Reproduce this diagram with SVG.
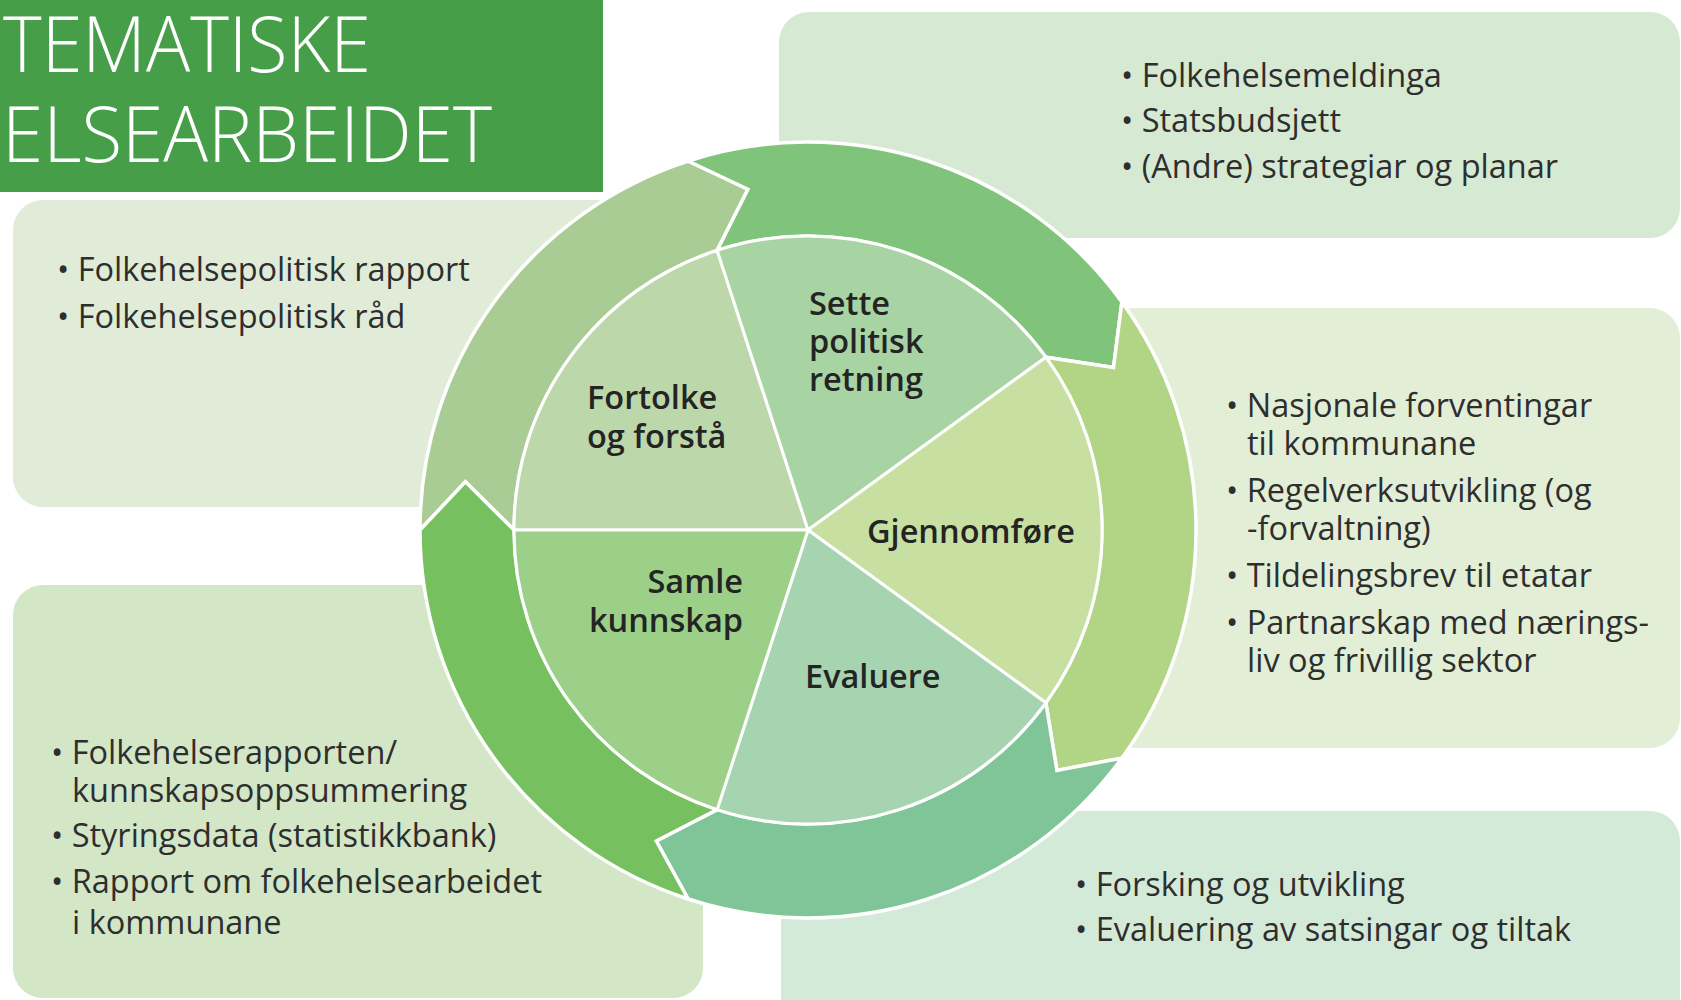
<svg xmlns="http://www.w3.org/2000/svg" width="1681" height="1000" viewBox="0 0 1681 1000">
<style>
.box{stroke:none}
.body{font-family:"Open Sans","Liberation Sans",sans-serif;font-size:32.5px;fill:#2e2e2e}
.lbl{font-family:"Open Sans","Liberation Sans",sans-serif;font-size:32.5px;font-weight:600;fill:#242424}
.title{font-family:"Open Sans","Liberation Sans",sans-serif;font-size:77px;font-weight:300;fill:#ffffff}
.ring{stroke:#ffffff;stroke-width:3.5;stroke-linejoin:miter}
.sec{stroke:#ffffff;stroke-width:3;stroke-linejoin:round}
</style>
<rect width="1681" height="1000" fill="#ffffff"/>

<g id="box-top-right">
<rect class="box" x="779" y="12" width="901" height="226" rx="30" fill="#D6E9D2"/>
<text class="body" x="1121" y="87">• Folkehelsemeldinga</text>
<text class="body" x="1121" y="132">• Statsbudsjett</text>
<text class="body" x="1121" y="178">• (Andre) strategiar og planar</text>
</g>

<g id="box-left-top">
<rect class="box" x="13" y="200" width="700" height="307" rx="30" fill="#E0ECD7"/>
<text class="body" x="57" y="281">• Folkehelsepolitisk rapport</text>
<text class="body" x="57" y="328">• Folkehelsepolitisk råd</text>
</g>

<g id="box-right-middle">
<rect class="box" x="1105" y="308" width="575" height="440" rx="30" fill="#E2EFD6"/>
<text class="body" x="1226" y="417">• Nasjonale forventingar</text>
<text class="body" x="1247" y="455">til kommunane</text>
<text class="body" x="1226" y="502">• Regelverksutvikling (og</text>
<text class="body" x="1247" y="540">-forvaltning)</text>
<text class="body" x="1226" y="587">• Tildelingsbrev til etatar</text>
<text class="body" x="1226" y="634">• Partnarskap med nærings-</text>
<text class="body" x="1247" y="672">liv og frivillig sektor</text>
</g>

<g id="box-left-bottom">
<rect class="box" x="13" y="585" width="690" height="413" rx="30" fill="#D3E6C6"/>
<text class="body" x="51" y="764">• Folkehelserapporten/</text>
<text class="body" x="72" y="802">kunnskapsoppsummering</text>
<text class="body" x="51" y="847">• Styringsdata (statistikkbank)</text>
<text class="body" x="51" y="893">• Rapport om folkehelsearbeidet</text>
<text class="body" x="72" y="934">i kommunane</text>
</g>

<g id="box-bottom-right">
<rect class="box" x="781" y="811" width="899" height="220" rx="30" fill="#D4EAD9"/>
<text class="body" x="1075" y="896">• Forsking og utvikling</text>
<text class="body" x="1075" y="941">• Evaluering av satsingar og tiltak</text>
</g>

<g id="title">
<rect x="0" y="0" width="603" height="192" fill="#469E48"/>
<text class="title" x="3" y="72" textLength="368" lengthAdjust="spacingAndGlyphs">TEMATISKE</text>
<text class="title" x="2" y="162" textLength="490" lengthAdjust="spacingAndGlyphs">ELSEARBEIDET</text>
</g>

<g id="connectors">
<path id="arrow-fortolke" class="ring" fill="#A9CC95" d="M420,530 A388,388 0 0 1 688.1,161 L747.92,189.26 L717.15,250.39 A294,294 0 0 0 514,530 L465.37,481.85 Z"/>
<path id="arrow-sette" class="ring" fill="#80C47C" d="M688.1,161 A388,388 0 0 1 1121.9,301.9 L1113.5,367.56 L1045.85,357.19 A294,294 0 0 0 717.15,250.39 L747.92,189.26 Z"/>
<path id="arrow-gjennomfore" class="ring" fill="#B2D585" d="M1121.9,301.9 A388,388 0 0 1 1121.9,758.1 L1056.89,770.35 L1045.85,702.81 A294,294 0 0 0 1045.85,357.19 L1113.5,367.56 Z"/>
<path id="arrow-evaluere" class="ring" fill="#7FC597" d="M1121.9,758.1 A388,388 0 0 1 688.1,899 L656.32,840.98 L717.15,809.61 A294,294 0 0 0 1045.85,702.81 L1056.89,770.35 Z"/>
<path id="arrow-samle" class="ring" fill="#76C060" d="M688.1,899 A388,388 0 0 1 420,530 L465.37,481.85 L514,530 A294,294 0 0 0 717.15,809.61 L656.32,840.98 Z"/>
</g>

<g id="node-fortolke">
<path class="sec" fill="#BCD7AA" d="M808,530 L514,530 A294,294 0 0 1 717.15,250.39 Z"/>
<text class="lbl" x="587" y="409">Fortolke</text>
<text class="lbl" x="587" y="448">og forstå</text>
</g>
<g id="node-sette">
<path class="sec" fill="#A8D4A3" d="M808,530 L717.15,250.39 A294,294 0 0 1 1045.85,357.19 Z"/>
<text class="lbl" x="809" y="315">Sette</text>
<text class="lbl" x="809" y="353">politisk</text>
<text class="lbl" x="809" y="391">retning</text>
</g>
<g id="node-gjennomfore">
<path class="sec" fill="#C7E0A2" d="M808,530 L1045.85,357.19 A294,294 0 0 1 1045.85,702.81 Z"/>
<text class="lbl" x="867" y="543">Gjennomføre</text>
</g>
<g id="node-evaluere">
<path class="sec" fill="#A6D4B1" d="M808,530 L1045.85,702.81 A294,294 0 0 1 717.15,809.61 Z"/>
<text class="lbl" x="805" y="688">Evaluere</text>
</g>
<g id="node-samle">
<path class="sec" fill="#9CCF87" d="M808,530 L717.15,809.61 A294,294 0 0 1 514,530 Z"/>
<text class="lbl" x="743" y="593" text-anchor="end">Samle</text>
<text class="lbl" x="743" y="632" text-anchor="end">kunnskap</text>
</g>
</svg>
